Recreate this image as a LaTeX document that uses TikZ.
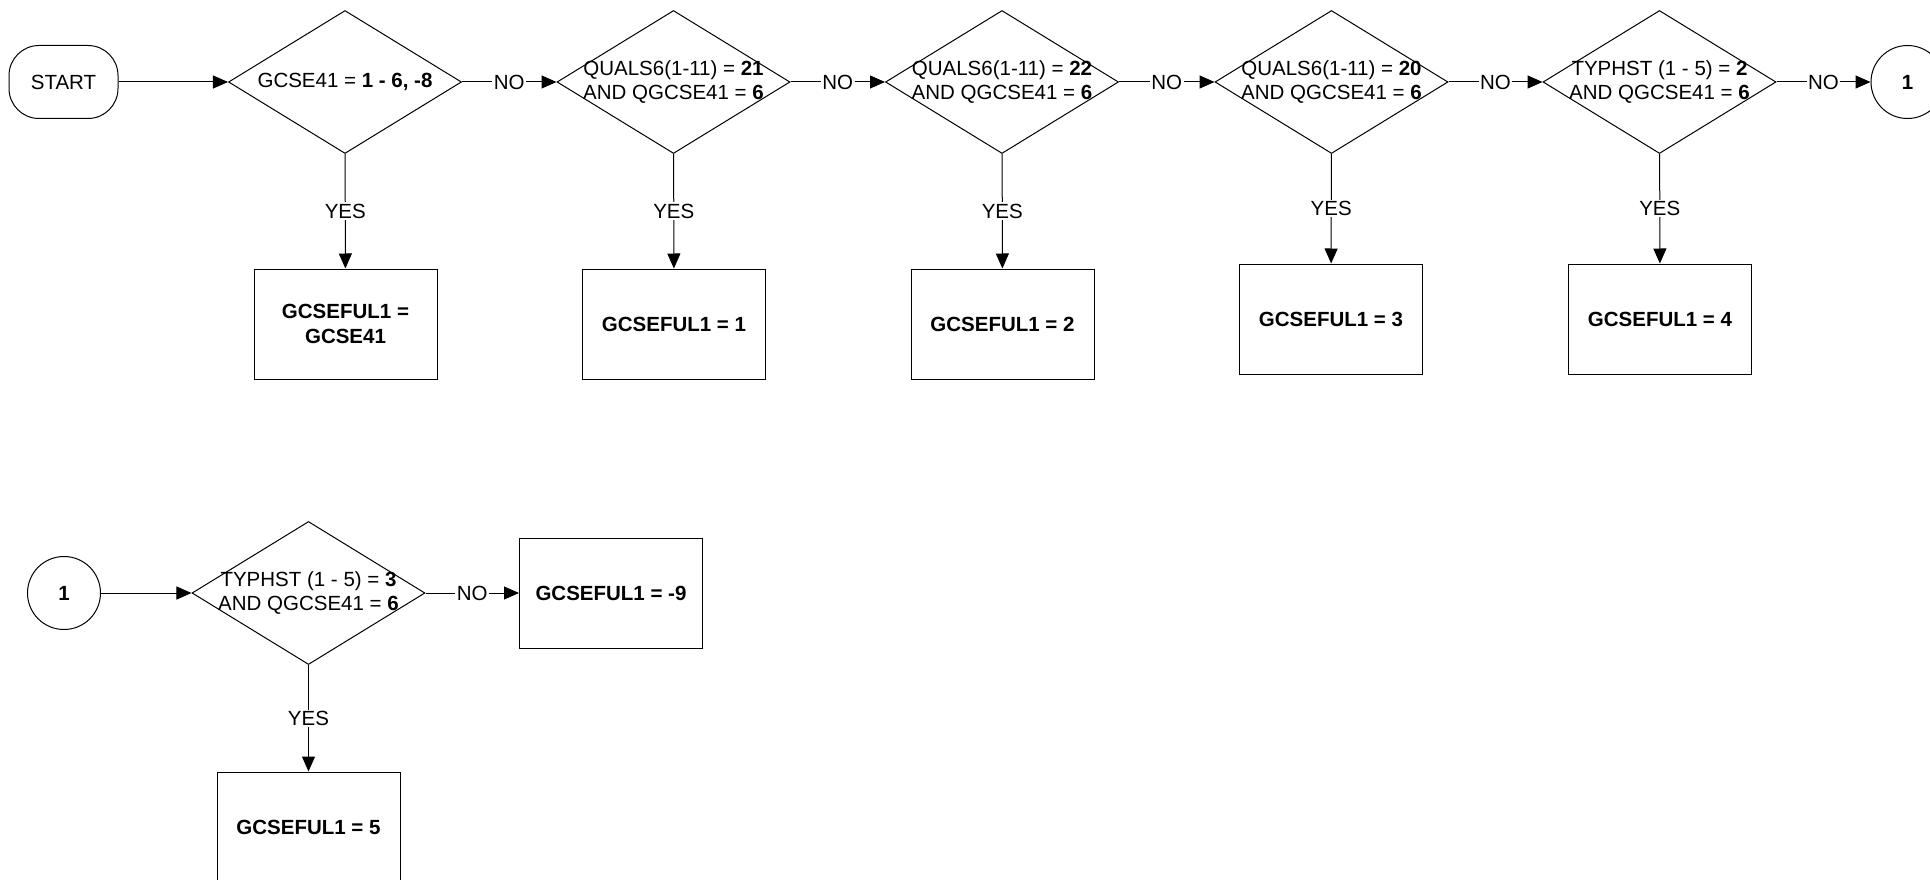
\documentclass[tikz,border=0pt]{standalone}
\usepackage{fontspec}
\setmainfont{Liberation Sans}
\usetikzlibrary{shapes.geometric,arrows.meta}
\begin{document}
\begin{tikzpicture}[x=1pt,y=-1pt,
  line width=1pt,
  every node/.style={font=\fontsize{20.5}{24.5}\selectfont},
  dia/.style={draw, diamond, inner sep=0pt, minimum width=233pt, minimum height=143pt},
  cond/.style={align=center, inner sep=0pt},
  resbox/.style={draw, rectangle, inner sep=0pt, minimum width=183pt, minimum height=110pt, align=center, font=\fontsize{20.5}{25}\selectfont\bfseries},
  conn/.style={draw, circle, minimum size=73pt, inner sep=0pt, font=\fontsize{20.5}{24}\selectfont\bfseries},
  startbox/.style={draw, rounded corners=30pt, minimum width=109pt, minimum height=73pt, inner sep=0pt},
  arr/.style={-{Triangle[length=15pt,width=13pt]}},
  lbl/.style={fill=white, inner sep=1.5pt}]
\clip (0,0) rectangle (1930,880);
\useasboundingbox (0,0) rectangle (1930,880);

% top row
\node[startbox] (start) at (63.5,82) {START};
\node[dia] (d1) at (345,82) {};
\node[cond] (t1) at (d1) {GCSE41 = \textbf{1 - 6, -8}};
\node[dia] (d2) at (673.5,82) {};
\node[cond] (t2) at (d2) {QUALS6(1-11) = \textbf{21}\\AND QGCSE41 = \textbf{6}};
\node[dia] (d3) at (1002,82) {};
\node[cond] (t3) at (d3) {QUALS6(1-11) = \textbf{22}\\AND QGCSE41 = \textbf{6}};
\node[dia] (d4) at (1331.5,82) {};
\node[cond] (t4) at (d4) {QUALS6(1-11) = \textbf{20}\\AND QGCSE41 = \textbf{6}};
\node[dia] (d5) at (1659.5,82) {};
\node[cond] (t5) at (d5) {TYPHST (1 - 5) = \textbf{2}\\AND QGCSE41 = \textbf{6}};
\node[conn] (c1) at (1907.5,82) {1};

\node[resbox] (b1) at (345.5,324) {GCSEFUL1 =\\GCSE41};
\node[resbox] (b2) at (674,324) {GCSEFUL1 = 1};
\node[resbox] (b3) at (1002.5,324) {GCSEFUL1 = 2};
\node[resbox] (b4) at (1331,319) {GCSEFUL1 = 3};
\node[resbox] (b5) at (1660,319) {GCSEFUL1 = 4};

% bottom row
\node[conn] (c2) at (64,593) {1};
\node[dia] (d6) at (308.5,593) {};
\node[cond] (t6) at (d6) {TYPHST (1 - 5) = \textbf{3}\\AND QGCSE41 = \textbf{6}};
\node[resbox] (b7) at (611,593) {GCSEFUL1 = -9};
\node[resbox] (b6) at (308.5,827) {GCSEFUL1 = 5};

% connectors
\draw[arr] (start) -- (d1);
\draw[arr] (d1) -- node[lbl] (n1) {NO} (d2);
\draw[arr] (d2) -- node[lbl] (n2) {NO} (d3);
\draw[arr] (d3) -- node[lbl] (n3) {NO} (d4);
\draw[arr] (d4) -- node[lbl] (n4) {NO} (d5);
\draw[arr] (d5) -- node[lbl] (n5) {NO} (c1);

\draw[arr] (d1) -- node[lbl] (y1) {YES} (b1);
\draw[arr] (d2) -- node[lbl] (y2) {YES} (b2);
\draw[arr] (d3) -- node[lbl] (y3) {YES} (b3);
\draw[arr] (d4) -- node[lbl] (y4) {YES} (b4);
\draw[arr] (d5) -- node[lbl] (y5) {YES} (b5);

\draw[arr] (c2) -- (d6);
\draw[arr] (d6) -- node[lbl] (n6) {NO} (b7);
\draw[arr] (d6) -- node[lbl] (y6) {YES} (b6);
\end{tikzpicture}
\end{document}
